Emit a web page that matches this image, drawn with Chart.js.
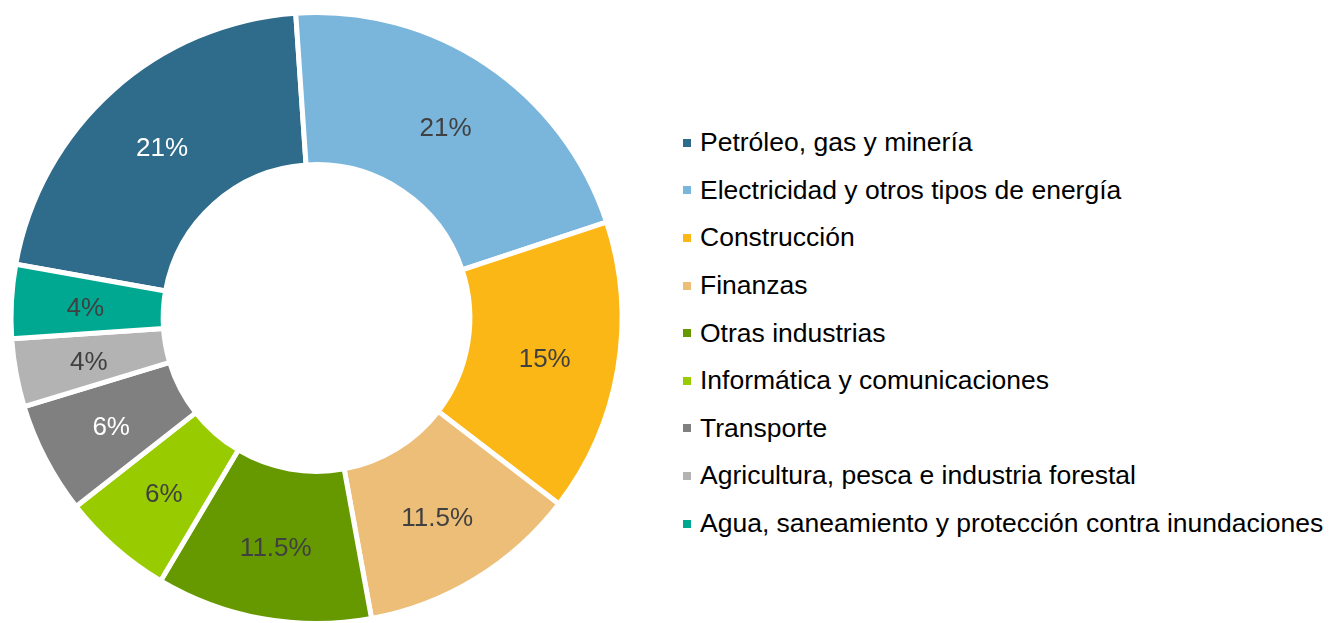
<!DOCTYPE html>
<html>
<head>
<meta charset="utf-8">
<script src="https://cdn.jsdelivr.net/npm/chart.js@4"></script>
<style>
    html, body { margin: 0; padding: 0; background: #fff; overflow: hidden; }
    #wrap { position: relative; width: 1341px; height: 623px; overflow: hidden; }
    #chartBox { position: absolute; left: 0; top: 0; width: 633px; height: 630px; }
    #custom-legend { position: absolute; left: 683px; top: 119px; }
    .chart-legend-item { height: 47.6px; display: flex; align-items: center; white-space: nowrap; }
    .chart-legend-box { width: 8px; height: 8px; margin-right: 9px; }
    .chart-legend-text { font-family: Arial, "Liberation Sans", sans-serif; font-size: 26.5px; color: #000; }
</style>
</head>
<body>
<div id="wrap">
    <div id="chartBox"><canvas id="myChart"></canvas></div>
    <div id="custom-legend"></div>
</div>
<script>
const labels = ['Petróleo, gas y minería', 'Electricidad y otros tipos de energía', 'Construcción', 'Finanzas',
    'Otras industrias', 'Informática y comunicaciones', 'Transporte', 'Agricultura, pesca e industria forestal',
    'Agua, saneamiento y protección contra inundaciones'];
const values = [21.1, 21.0, 15.5, 11.7, 11.4, 5.9, 5.9, 3.6, 3.9];
const valueLabels = ['21%', '21%', '15%', '11.5%', '11.5%', '6%', '6%', '4%', '4%'];
const colors = ['#2F6B8A', '#7AB5DC', '#FBB715', '#ECBE77', '#669900', '#99CC00', '#808080', '#B3B3B3', '#00A891'];
const labelColors = ['#fff', '#404040', '#404040', '#404040', '#404040', '#404040', '#fff', '#404040', '#404040'];

const ctx = document.getElementById('myChart').getContext('2d');

// etiquetas de porcentaje dentro de cada sector
const sliceLabels = {
    id: 'sliceLabels',
    afterDatasetsDraw(chart) {
        const c = chart.ctx;
        const meta = chart.getDatasetMeta(0);
        c.save();
        c.font = '26px Arial, "Liberation Sans", sans-serif';
        c.textAlign = 'center';
        c.textBaseline = 'middle';
        meta.data.forEach((arc, i) => {
            const a = arc.getProps(['x', 'y', 'startAngle', 'endAngle', 'innerRadius', 'outerRadius'], true);
            const mid = (a.startAngle + a.endAngle) / 2;
            const r = (a.innerRadius + a.outerRadius) / 2 + 2;
            c.fillStyle = labelColors[i];
            c.fillText(valueLabels[i], a.x + Math.cos(mid) * r, a.y + Math.sin(mid) * r + 3);
        });
        c.restore();
    }
};

const total = values.reduce((a, b) => a + b, 0);

function createChart(ctx) {
    return new Chart(ctx, {
        type: 'doughnut',
        data: {
            labels: labels,
            datasets: [{
                data: values,
                backgroundColor: colors,
                borderColor: '#fff',
                borderWidth: 5
            }]
        },
        options: {
            responsive: true,
            maintainAspectRatio: false,
            animation: false,
            cutout: '50.2%',
            rotation: -360 * values[0] / total - 3.9,
            layout: { padding: { top: 10, bottom: 4, left: 0, right: 0 } },
            plugins: {
                legend: { display: false },
                tooltip: { enabled: false }
            }
        },
        plugins: [sliceLabels]
    });
}

let myChartInstance = createChart(ctx);

// leyenda personalizada
function createCustomLegend(chart) {
    const legendContainer = document.getElementById('custom-legend');
    legendContainer.innerHTML = '';
    chart.data.labels.forEach((label, index) => {
        const legendItem = document.createElement('div');
        legendItem.className = 'chart-legend-item';
        const legendColorBox = document.createElement('div');
        legendColorBox.className = 'chart-legend-box';
        legendColorBox.style.backgroundColor = colors[index];
        const legendText = document.createElement('span');
        legendText.className = 'chart-legend-text';
        legendText.innerText = label;
        legendItem.appendChild(legendColorBox);
        legendItem.appendChild(legendText);
        legendContainer.appendChild(legendItem);
    });
}

createCustomLegend(myChartInstance);
</script>
</body>
</html>
